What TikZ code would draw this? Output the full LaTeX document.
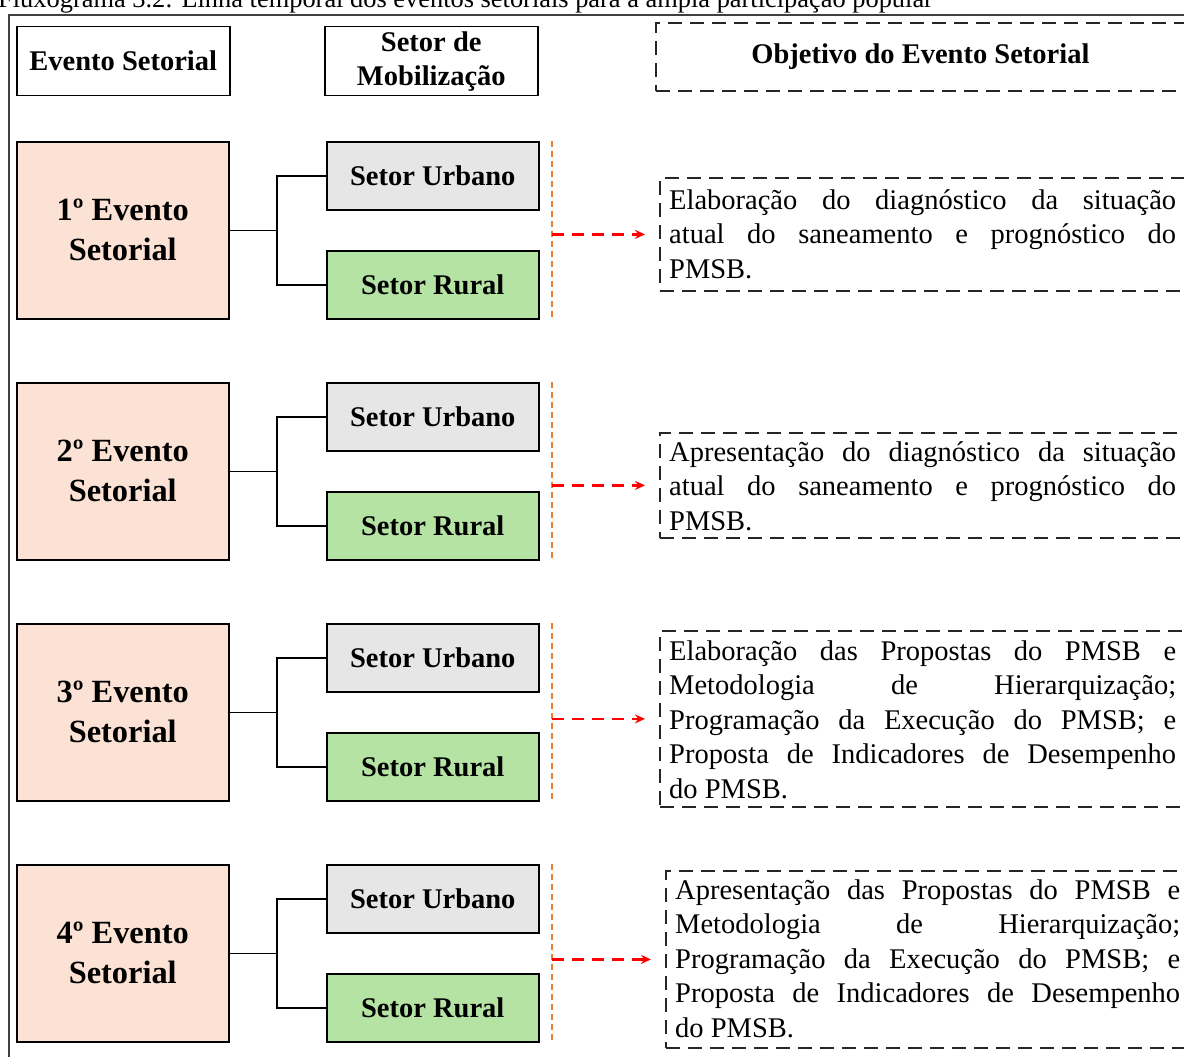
\documentclass[tikz,border=0pt]{standalone}
\usepackage{fontspec}
\setmainfont{Liberation Serif}
\usetikzlibrary{arrows.meta,calc}
\definecolor{peach}{HTML}{FBE2D5}
\definecolor{urbgray}{HTML}{E7E6E6}
\definecolor{rurgreen}{HTML}{B4E3A4}
\definecolor{vorange}{HTML}{ED7D31}
\definecolor{framegray}{HTML}{404040}
\hyphenpenalty=10000
\exhyphenpenalty=10000
\tolerance=10000
\begin{document}
\begin{tikzpicture}[x=1pt,y=-1pt,
  hdr/.style={draw=black, line width=1.5pt, minimum width=213pt, minimum height=69pt, inner sep=0pt, anchor=north west, font=\fontsize{28.5}{34}\selectfont\bfseries, align=center},
  ev/.style={draw=black, fill=peach, line width=1.5pt, minimum width=212pt, minimum height=177pt, anchor=north west, inner sep=0pt, font=\fontsize{32.4}{40}\selectfont\bfseries, align=center},
  urb/.style={draw=black, fill=urbgray, line width=1.5pt, minimum width=212pt, minimum height=68pt, anchor=north west, inner sep=0pt, font=\fontsize{28.5}{34}\selectfont\bfseries},
  rur/.style={urb, fill=rurgreen},
  link/.style={draw=black, line width=1.5pt},
  vdash/.style={draw=vorange, line width=1.5pt, dash pattern=on 6pt off 4pt},
  rarrow/.style={draw=red, line width=2.3pt, dash pattern=on 12pt off 8pt, -{Stealth[length=10pt,width=9pt]}, shorten >=14pt},
  objbox/.style={draw=black!85, line width=1.8pt, dash pattern=on 14pt off 8pt, anchor=north west, inner sep=0pt},
  objtext/.style={anchor=base west, inner sep=0pt, text width=507pt, align=justify, font=\fontsize{28.5}{34.6}\selectfont},
  framel/.style={draw=framegray, line width=2pt}
]
\useasboundingbox (0,0) rectangle (1184,1057);
\clip (0,0) rectangle (1184,1057);

% caption
\node[anchor=base west, inner sep=0pt, font=\fontsize{26.4}{30}\selectfont] (cap) at (-2,8)
  {Fluxograma 3.2: Linha temporal dos eventos setoriais para a ampla participação popular};

% frame
\draw[framel] (9,1070) -- (9,15) -- (1200,15);

% headers
\node[hdr] (h1) at (16,26) {Evento Setorial};
\node[hdr] (h2) at (324,26) {Setor de\\Mobilização};
\node[objbox, minimum width=529pt, minimum height=68pt, font=\fontsize{28.5}{34}\selectfont\bfseries] (h3) at (655,22) {Objetivo do Evento Setorial};

% rows
\foreach \i/\t in {1/141, 2/382, 3/623, 4/864}{
  \node[ev] (e\i) at (16,\t) {\i º Evento\\Setorial};
  \node[urb] (u\i) at (326,\t) {Setor Urbano};
  \node[rur] (r\i) at (326,{\t+109}) {Setor Rural};
  \draw[link] (u\i.west) -- ++(-49,0) coordinate (k\i) |- (r\i.west);
  \draw[link] (e\i.east) -- (e\i.east -| k\i);
  \coordinate (vt\i) at (552,\t);
  \coordinate (vb\i) at (552,{\t+177});
  \draw[vdash] (vt\i) -- (vb\i);
}

% objective boxes
\node[objbox, minimum width=525pt, minimum height=113pt] (o1) at (659,177) {};
\node[objbox, minimum width=525pt, minimum height=105pt] (o2) at (659,432) {};
\node[objbox, minimum width=525pt, minimum height=176pt] (o3) at (659,630) {};
\node[objbox, minimum width=519pt, minimum height=177pt] (o4) at (665,870) {};

\node[objtext] (t1) at (669,209) {Elaboração do diagnóstico da situação\linebreak atual do saneamento e prognóstico do\linebreak PMSB.};
\node[objtext] (t2) at (669,461) {Apresentação do diagnóstico da situação\linebreak atual do saneamento e prognóstico do\linebreak PMSB.};
\node[objtext] (t3) at (669,660) {Elaboração das Propostas do PMSB e\linebreak Metodologia de Hierarquização;\linebreak Programação da Execução do PMSB; e\linebreak Proposta de Indicadores de Desempenho\linebreak do PMSB.};
\node[objtext, text width=505pt] (t4) at (675,899) {Apresentação das Propostas do PMSB e\linebreak Metodologia de Hierarquização;\linebreak Programação da Execução do PMSB; e\linebreak Proposta de Indicadores de Desempenho\linebreak do PMSB.};

% arrows
\foreach \i in {1,2,3,4}{
  \draw[rarrow] (o\i.west -| vt\i) -- (o\i.west);
}
\end{tikzpicture}
\end{document}
